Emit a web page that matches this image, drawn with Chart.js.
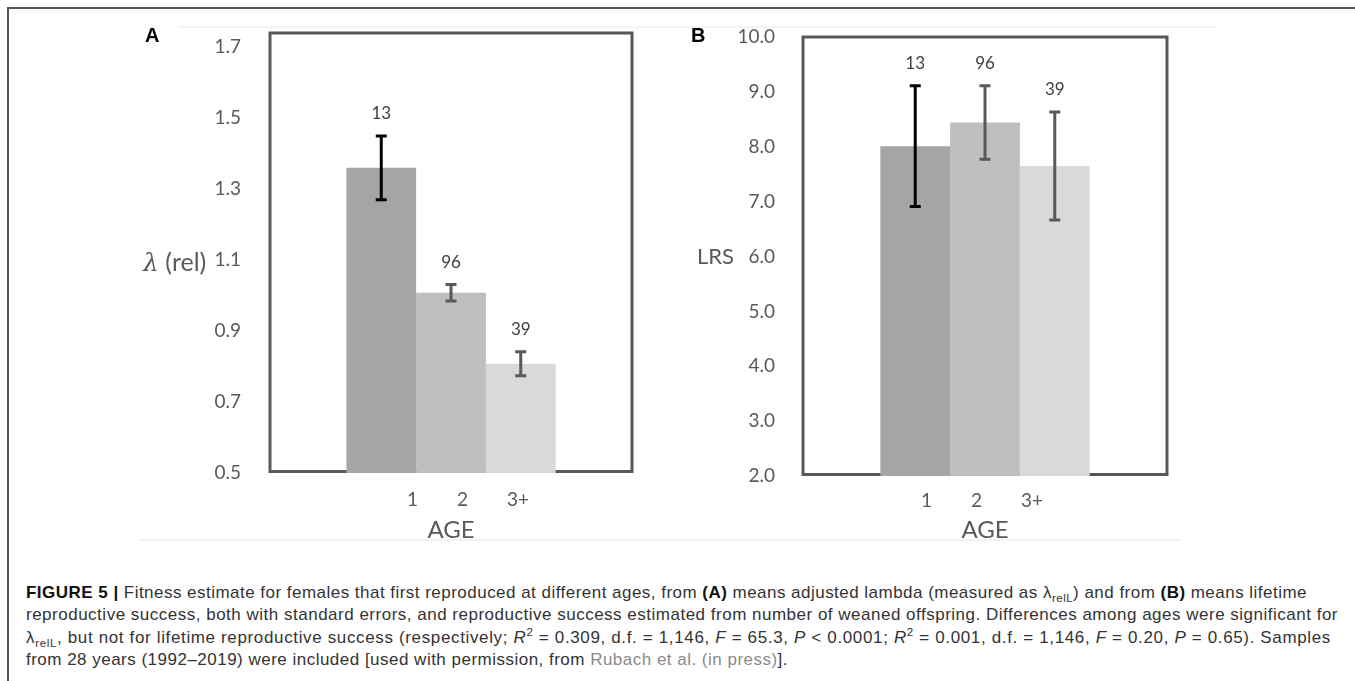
<!DOCTYPE html>
<html>
<head>
<meta charset="utf-8">
<script src="https://cdn.jsdelivr.net/npm/chart.js@4.4.1/dist/chart.umd.min.js"></script>
<style>
  html, body { margin: 0; padding: 0; background: #fff; }
  body { width: 1355px; height: 681px; position: relative; overflow: hidden;
         font-family: "Liberation Sans", Arial, sans-serif; }
  .frame-top  { position: absolute; left: 7px; top: 7px; right: 0; height: 2px; background: #555; }
  .frame-left { position: absolute; left: 7px; top: 7px; bottom: 0; width: 2px; background: #555; }
  .faint      { position: absolute; height: 2px; background: #f3f3f3; }
  .panel      { position: absolute; top: 0; width: 540px; height: 560px; }
  .letter     { position: absolute; font: bold 20px/20px "Liberation Sans", Arial, sans-serif; color: #000; }
  .ytitle     { position: absolute; font-family: Lato, sans-serif; color: #595959; white-space: nowrap; }
  .ytitle i   { font-family: "DejaVu Serif", serif; }
  .caption    { position: absolute; left: 26px; top: 582px; font-size: 17px; line-height: 22.3px; color: #333; }
  .caption .cl span { white-space: nowrap; }
  .caption b  { color: #111; }
  .caption sub, .caption sup { font-size: 0.68em; line-height: 0; }
  .caption .lnk { color: #8a8a8a; }
</style>
</head>
<body>
<div class="frame-top"></div>
<div class="frame-left"></div>
<div class="faint" style="left:178px; top:26px; width:1037px;"></div>
<div class="faint" style="left:140px; top:539px; width:1040px;"></div>

<div class="panel" style="left:120px;"><canvas id="chart-a"></canvas></div>
<div class="panel" style="left:670px;"><canvas id="chart-b"></canvas></div>

<div class="letter" style="left:145px; top:25px;">A</div>
<div class="letter" style="left:691px; top:25px;">B</div>
<div class="ytitle" style="left:143px; top:246px; font-size:25px; line-height:30px;"><i>λ</i> (rel)</div>
<div class="ytitle" style="left:697px; top:243px; font-size:22px; line-height:26px;">LRS</div>

<div class="caption">
  <div class="cl" data-w="1281"><span><b>FIGURE 5 |</b> Fitness estimate for females that first reproduced at different ages, from <b>(A)</b> means adjusted lambda (measured as λ<sub>relL</sub>) and from <b>(B)</b> means lifetime</span></div>
  <div class="cl" data-w="1312"><span>reproductive success, both with standard errors, and reproductive success estimated from number of weaned offspring. Differences among ages were significant for</span></div>
  <div class="cl" data-w="1305"><span>λ<sub>relL</sub>, but not for lifetime reproductive success (respectively; <i>R</i><sup>2</sup> = 0.309, d.f. = 1,146, <i>F</i> = 65.3, <i>P</i> &lt; 0.0001; <i>R</i><sup>2</sup> = 0.001, d.f. = 1,146, <i>F</i> = 0.20, <i>P</i> = 0.65). Samples</span></div>
  <div class="cl" data-w="762"><span>from 28 years (1992–2019) were included [used with permission, from <span class="lnk">Rubach et al. (in press)</span>].</span></div>
</div>

<script>
"use strict";

// ── Data ────────────────────────────────────────────────────────────────────
const AGE_LABELS   = ["1", "2", "3+"];
const SAMPLE_SIZES = [13, 96, 39];

const LAMBDA_MEANS = [1.360, 1.008, 0.808];
const LAMBDA_SE    = [0.090, 0.023, 0.034];
const LAMBDA_TICKS = [0.5, 0.7, 0.9, 1.1, 1.3, 1.5, 1.7];

const LRS_MEANS = [8.01, 8.44, 7.65];
const LRS_SE    = [1.10, 0.67, 0.985];
const LRS_TICKS = [2, 3, 4, 5, 6, 7, 8, 9, 10];

// ── Style ───────────────────────────────────────────────────────────────────
const BAR_COLORS = ["#a5a5a5", "#bfbfbf", "#d9d9d9"];
const ERR_COLORS = ["#000000", "#595959", "#595959"];
const AXIS_GREY  = "#595959";
const FONT       = "Lato, 'Open Sans', sans-serif";

// ── Plugins ─────────────────────────────────────────────────────────────────
// plot frame, drawn under the bars so they hide its bottom edge
const plotFrame = {
  id: "plotFrame",
  beforeDatasetsDraw(chart) {
    const { ctx, chartArea: a } = chart;
    ctx.save();
    ctx.strokeStyle = AXIS_GREY;
    ctx.lineWidth = 3;
    ctx.beginPath();
    ctx.moveTo(a.left, a.bottom - 1.5);
    ctx.lineTo(a.left, a.top);
    ctx.lineTo(a.right, a.top);
    ctx.lineTo(a.right, a.bottom - 1.5);
    ctx.closePath();
    ctx.stroke();
    ctx.restore();
  },
};

// standard-error whiskers plus the sample size above each one
const errorBars = {
  id: "errorBars",
  afterDatasetsDraw(chart) {
    const { ctx } = chart;
    const y = chart.scales.y;
    chart.data.datasets.forEach((ds, i) => {
      const bar = chart.getDatasetMeta(i).data[0];
      if (!bar) return;
      const m = ds.data[0];
      const top = y.getPixelForValue(m + ds.se);
      const bot = y.getPixelForValue(m - ds.se);
      ctx.save();
      ctx.strokeStyle = ds.errColor;
      ctx.lineWidth = 3;
      ctx.beginPath();
      ctx.moveTo(bar.x, top);
      ctx.lineTo(bar.x, bot);
      ctx.moveTo(bar.x - 5.5, top);
      ctx.lineTo(bar.x + 5.5, top);
      ctx.moveTo(bar.x - 5.5, bot);
      ctx.lineTo(bar.x + 5.5, bot);
      ctx.stroke();
      ctx.fillStyle = "#404040";
      ctx.font = `17px ${FONT}`;
      ctx.textAlign = "center";
      ctx.textBaseline = "middle";
      ctx.fillText(String(ds.n), bar.x, top - 22);
      ctx.restore();
    });
  },
};

// ── Panel factory ───────────────────────────────────────────────────────────
function makePanel(canvasId, p) {
  return new Chart(document.getElementById(canvasId), {
    type: "bar",
    data: {
      // one Excel-style category whose label holds all three ages
      labels: [AGE_LABELS.join(" ".repeat(8))],
      datasets: AGE_LABELS.map((age, i) => ({
        label: age,
        data: [p.means[i]],
        se: p.se[i],
        n: SAMPLE_SIZES[i],
        errColor: ERR_COLORS[i],
        backgroundColor: BAR_COLORS[i],
        borderWidth: 0,
        barPercentage: 1,
        categoryPercentage: p.catPct,
      })),
    },
    options: {
      animation: false,
      responsive: true,
      maintainAspectRatio: false,
      layout: { padding: { top: p.padTop, right: p.padRight, left: 0, bottom: 0 } },
      scales: {
        x: {
          grid: { display: false },
          border: { display: false },
          ticks: { color: AXIS_GREY, font: { family: FONT, size: 19 }, padding: p.tickPadX, labelOffset: p.labelOffset, maxRotation: 0 },
          title: { display: true, text: "AGE", color: AXIS_GREY, font: { family: FONT, size: 24 }, padding: { top: 0, bottom: 15.6 } },
          afterFit: s => { s.height = p.xHeight; },
        },
        y: {
          min: p.min, max: p.max,
          grid: { display: false },
          border: { display: false },
          ticks: { color: AXIS_GREY, font: { family: FONT, size: 19 }, padding: p.tickPadY, callback: v => v.toFixed(1) },
          afterBuildTicks: s => { s.ticks = p.ticks.map(v => ({ value: v })); },
          afterFit: s => { s.width = p.yWidth; },
        },
      },
      plugins: { legend: { display: false }, tooltip: { enabled: false } },
    },
    plugins: [plotFrame, errorBars],
  });
}

makePanel("chart-a", {
  means: LAMBDA_MEANS, se: LAMBDA_SE, ticks: LAMBDA_TICKS,
  min: 0.5, max: 1.74, catPct: 0.578,
  padTop: 33, padRight: 28, yWidth: 150, xHeight: 87,
  tickPadY: 21, tickPadX: 7, labelOffset: 17,
});

makePanel("chart-b", {
  means: LRS_MEANS, se: LRS_SE, ticks: LRS_TICKS,
  min: 2, max: 10, catPct: 0.575,
  padTop: 37, padRight: 43, yWidth: 133, xHeight: 84,
  tickPadY: 20, tickPadX: 5, labelOffset: -3,
});

// ── Caption line fitting ────────────────────────────────────────────────────
document.querySelectorAll(".caption .cl").forEach(line => {
  const span = line.firstElementChild;
  const target = parseFloat(line.dataset.w);
  const natural = span.getBoundingClientRect().width;
  const chars = span.textContent.length;
  span.style.letterSpacing = ((target - natural) / chars).toFixed(3) + "px";
});
</script>
</body>
</html>
